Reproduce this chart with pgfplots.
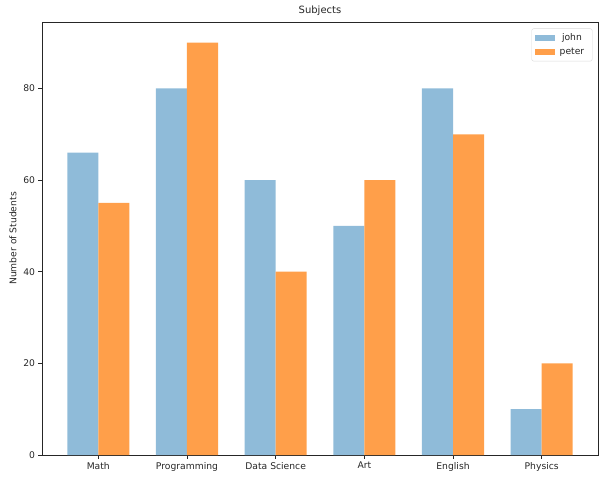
\documentclass[border=0pt]{standalone}
\usepackage{pgfplots}
\pgfplotsset{compat=1.18}
\usepackage{fontspec}
\setmainfont{DejaVu Sans}
\definecolor{johnblue}{RGB}{143,187,217}
\definecolor{peterorange}{RGB}{255,159,74}
\definecolor{txt}{RGB}{38,38,38}
\begin{document}
\begin{tikzpicture}
\begin{axis}[
    name=ax,
    scale only axis,
    width=556pt, height=433pt,
    xmin=-0.635, xmax=5.635,
    ymin=0, ymax=94.5,
    ybar, bar width=0.35,
    xtick={0,1,2,3,4,5},
    xticklabels={Math,Programming,Data Science,Art,English,Physics},
    ytick={0,20,40,60,80},
    tick align=outside,
    tick pos=left,
    major tick length=3.5pt,
    every tick/.style={txt, line width=0.8pt},
    axis line style={txt, line width=0.9pt},
    /pgf/number format/assume math mode=true,
    tick label style={font=\fontsize{9.2}{11}\selectfont, text=txt},
    ylabel={Number of Students},
    ylabel style={font=\fontsize{9.2}{11}\selectfont, text=txt},
    title={Subjects},
    title style={font=\fontsize{10}{12}\selectfont, text=txt, yshift=-3pt},
    legend style={at={(0.99,0.985)}, anchor=north east, font=\fontsize{9.2}{11}\selectfont,
        draw=black!15, rounded corners=2pt, text=txt, row sep=2pt, inner sep=3pt,
        nodes={inner xsep=5pt}},
    legend image code/.code={\fill[#1, sharp corners] (0pt,-3pt) rectangle (20pt,3pt);},
]
\addplot[fill=johnblue, draw=none, bar shift=-0.175] coordinates {
    (0,66) (1,80) (2,60) (3,50) (4,80) (5,10)
};
\addlegendentry{john}
\addplot[fill=peterorange, draw=none, bar shift=0.175] coordinates {
    (0,55) (1,90) (2,40) (3,60) (4,70) (5,20)
};
\addlegendentry{peter}
\end{axis}
\useasboundingbox ([xshift=-42pt,yshift=-23pt]ax.south west) rectangle ([xshift=7pt,yshift=22pt]ax.north east);
\end{tikzpicture}
\end{document}
